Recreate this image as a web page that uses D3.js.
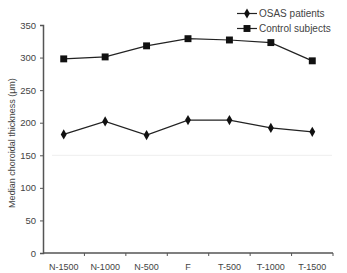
<!DOCTYPE html>
<html>
<head>
<meta charset="utf-8">
<script src="https://cdn.jsdelivr.net/npm/d3@7"></script>
<style>
  body { margin: 0; background: #fff; }
  svg text { font-family: "Liberation Sans", Arial, sans-serif; fill: #444; }
</style>
</head>
<body>
<div class="chart"></div>
<script>
const categories = ["N-1500", "N-1000", "N-500", "F", "T-500", "T-1000", "T-1500"]
const osasValues = [182, 202, 181, 204, 204, 192, 186]
const controlValues = [298, 301, 318, 329, 327, 323, 295]
const yTicks = [0, 50, 100, 150, 200, 250, 300, 350]

const width = 347, height = 273
const margin = {left: 43, right: 14, top: 25, bottom: 20}

const svg = d3.select('.chart').append('svg')
    .attr('width', width)
    .attr('height', height)

const x = d3.scaleBand()
    .domain(categories)
    .range([margin.left, width - margin.right])

const y = d3.scaleLinear()
    .domain([0, 350])
    .range([height - margin.bottom, margin.top])

// faint line at 150
svg.append('line')
    .attr('x1', margin.left + 9)
    .attr('x2', width - margin.right - 1)
    .attr('y1', y(150))
    .attr('y2', y(150))
    .attr('stroke', '#eeeeee')
    .attr('stroke-width', 1)

const yAxis = svg.append('g')
    .attr('transform', `translate(${margin.left},0)`)
    .call(d3.axisLeft(y).tickValues(yTicks).tickSize(3).tickPadding(4))
yAxis.select('.domain').attr('stroke', '#555').attr('stroke-width', 1.5)
yAxis.selectAll('.tick line').attr('stroke', '#555')
yAxis.selectAll('text').attr('font-size', '9.5px').style('fill', '#444')

// x axis: ticks at band edges, labels at band centers
const xAxis = svg.append('g')
    .attr('transform', `translate(0,${y(0)})`)
xAxis.append('line')
    .attr('x1', margin.left)
    .attr('x2', width - margin.right)
    .attr('stroke', '#555')
    .attr('stroke-width', 1.5)
const edges = categories.map(c => x(c)).concat([x(categories[categories.length - 1]) + x.bandwidth()])
xAxis.selectAll('.xtick')
    .data(edges.slice(1))
    .enter()
    .append('line')
    .attr('x1', d => d)
    .attr('x2', d => d)
    .attr('y1', 0)
    .attr('y2', 3)
    .attr('stroke', '#555')
xAxis.selectAll('.xlabel')
    .data(categories)
    .enter()
    .append('text')
    .attr('x', d => x(d) + x.bandwidth() / 2)
    .attr('y', 17)
    .attr('text-anchor', 'middle')
    .attr('font-size', '9px')
    .text(d => d)

svg.append('text')
    .attr('transform', `translate(15,${(y(0) + y(350)) / 2 + 4}) rotate(-90)`)
    .attr('text-anchor', 'middle')
    .attr('font-size', '9px')
    .text('Median choroidal thickness (\u03bcm)')

const line = d3.line()
    .x((d, i) => x(categories[i]) + x.bandwidth() / 2)
    .y(d => y(d))

const series = [
    {name: 'OSAS patients', values: osasValues, symbol: d3.symbolDiamond, size: 30},
    {name: 'Control subjects', values: controlValues, symbol: d3.symbolSquare, size: 48}
]

series.forEach(s => {
    svg.append('path')
        .datum(s.values)
        .attr('d', line)
        .attr('fill', 'none')
        .attr('stroke', '#222')
        .attr('stroke-width', 1.2)
    svg.selectAll(null)
        .data(s.values)
        .enter()
        .append('path')
        .attr('d', d3.symbol().type(s.symbol).size(s.size))
        .attr('transform', (d, i) => `translate(${x(categories[i]) + x.bandwidth() / 2},${y(d)})`)
        .attr('fill', '#111')
})

const legend = svg.selectAll('.legend')
    .data(series)
    .enter()
    .append('g')
    .attr('class', 'legend')
    .attr('transform', (d, i) => `translate(237,${13.5 + 15 * i})`)

legend.append('line')
    .attr('x1', 0)
    .attr('x2', 20)
    .attr('stroke', '#222')
    .attr('stroke-width', 1.2)
legend.append('path')
    .attr('d', d => d3.symbol().type(d.symbol).size(d.size)())
    .attr('transform', 'translate(10,0)')
    .attr('fill', '#111')
legend.append('text')
    .attr('x', 22)
    .attr('dy', '0.35em')
    .attr('font-size', '10px')
    .text(d => d.name)
</script>
</body>
</html>
